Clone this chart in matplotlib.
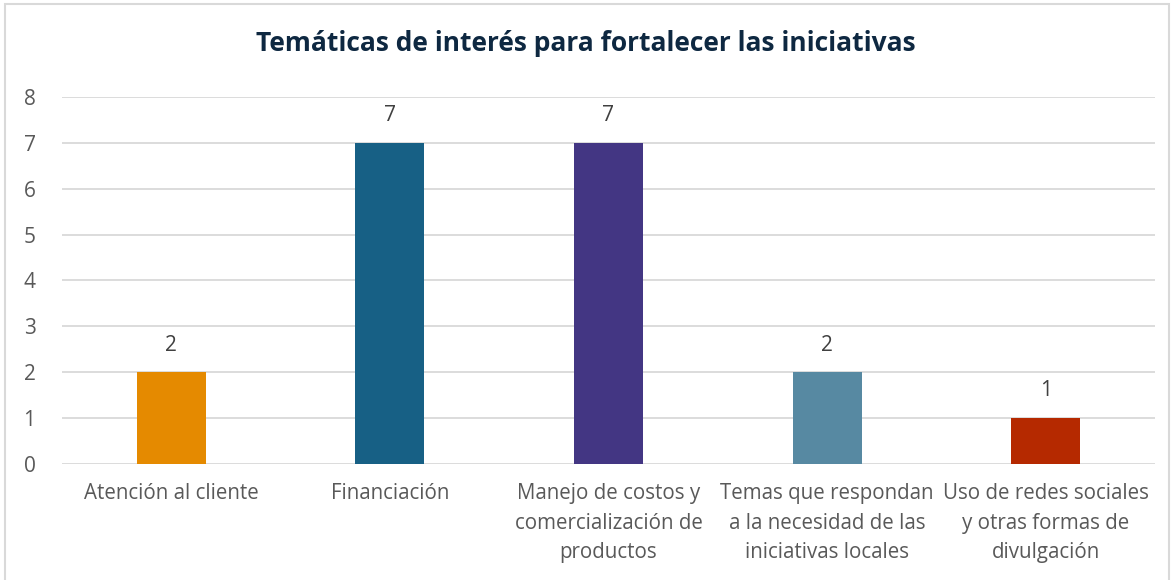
import matplotlib.pyplot as plt
from matplotlib.patches import Rectangle

# datos
categorias = ["Atención al cliente",
              "Financiación",
              "Manejo de costos y\ncomercialización de\nproductos",
              "Temas que respondan\na la necesidad de las\niniciativas locales",
              "Uso de redes sociales\ny otras formas de\ndivulgación"]
valores = [2, 7, 7, 2, 1]
colores = ["#E58A00", "#176085", "#433683", "#5789A2", "#B52900"]

plt.rcParams['font.family'] = ['Open Sans', 'DejaVu Sans']
gris = "#595959"

fig = plt.figure(figsize=(11.71, 5.8), dpi=100)
ax = fig.add_axes([0.0529, 0.2, 0.9334, 0.6328])

x = range(len(categorias))
ax.bar(x, valores, width=0.316, color=colores, zorder=3)
for i, v in zip(x, valores):
    ax.annotate(str(v), (i, v), xytext=(0, 12), textcoords="offset points",
                ha="center", va="bottom", fontsize=15, color="#404040")

ax.set_xlim(-0.5, len(categorias) - 0.5)
ax.set_ylim(0, 8)
ax.set_yticks(range(0, 9))
ax.grid(axis="y", color="#D9D9D9", linewidth=1.3, zorder=0)
for s in ax.spines.values():
    s.set_visible(False)
ax.tick_params(axis="both", length=0, colors=gris)
ax.tick_params(axis="y", labelsize=15, pad=19)
ax.set_xticks(list(x))
ax.set_xticklabels(categorias, fontsize=14.8, linespacing=1.52)
ax.tick_params(axis="x", pad=14)

fig.text(0.5, 0.925, "Temáticas de interés para fortalecer las iniciativas",
         ha="center", va="center", fontsize=19, fontweight="bold",
         color="#0E2841")

fig.patches.append(Rectangle((0.004, -0.01), 0.994, 1.003, transform=fig.transFigure,
                             fill=False, edgecolor="#D9D9D9", linewidth=1.5))

fig.savefig("out.png", dpi=100)
